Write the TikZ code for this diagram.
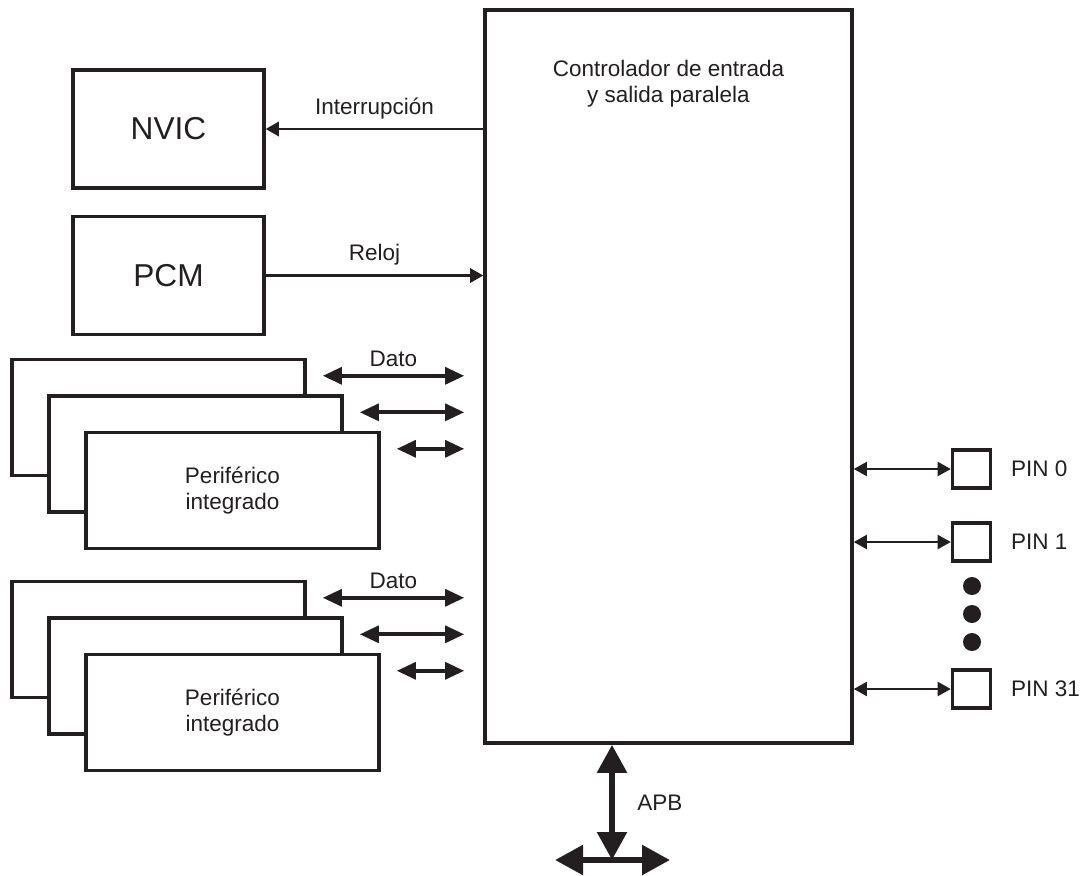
\documentclass[tikz,border=0pt]{standalone}
\usepackage{fontspec}
\setmainfont{Liberation Sans}
\usetikzlibrary{arrows.meta,positioning,calc}
\definecolor{ink}{RGB}{35,31,32}

\begin{document}
\begin{tikzpicture}[
  x=0.025cm, y=-0.025cm,
  every node/.style={text=ink, font=\fontsize{16}{18.4}\selectfont},
  box/.style={draw=ink, line width=2.4pt, fill=white},
  bigbox/.style={box, minimum width=9.175cm, minimum height=18.325cm},
  unit/.style={box, minimum width=4.775cm, minimum height=2.95cm, font=\fontsize{22.5}{27}\selectfont},
  periph/.style={box, minimum width=7.325cm, minimum height=2.9cm},
  pinbox/.style={box, minimum size=0.95cm},
  dot/.style={circle, fill=ink, minimum size=0.45cm, inner sep=0pt},
  sig/.style={draw=ink, line width=1.7pt, -{Triangle[length=0.33cm, width=0.36cm]}},
  pinlink/.style={draw=ink, line width=1.7pt, {Triangle[length=0.33cm, width=0.35cm]}-{Triangle[length=0.33cm, width=0.35cm]}},
  datalink/.style={draw=ink, line width=2.8pt, {Triangle[length=0.48cm, width=0.42cm]}-{Triangle[length=0.48cm, width=0.42cm]}},
  buslink/.style={draw=ink, line width=4.3pt, {Triangle[length=0.7cm, width=0.72cm]}-{Triangle[length=0.7cm, width=0.72cm]}},
]
\useasboundingbox (0,0) rectangle (1083,875);

% Controller
\node[bigbox] (ctrl) at (668.5,376.5) {};
\node[align=center] (ctrltitle) at (668.5,84) {Controlador de entrada\\y salida paralela};

% NVIC and PCM
\node[unit] (nvic) at (168.5,129) {NVIC};
\node[unit] (pcm) at (168.5,275.5) {PCM};
\draw[sig] (ctrl.west |- nvic.east) -- node[above=3pt] (irqlabel) {Interrupción} (nvic.east);
\draw[sig] (pcm.east) -- node[above=3pt] (clklabel) {Reloj} (ctrl.west |- pcm.east);

% Peripherals (two stacks of three)
\foreach \g/\dy in {1/0, 2/222} {
  \foreach \i in {0,1,2} {
    \node[periph] (p\g\i) at (158.5+37*\i, 417.5+\dy+36.5*\i) {};
    \draw[datalink] ($(p\g\i.north east)+(16,18)$) -- coordinate (mid\g\i) ($(ctrl.west |- p\g\i.north east)+(-19,18)$);
  }
  \node[align=center] (plabel\g) at (p\g2) {Periférico\\integrado};
  \node[above=3pt of mid\g0] (dato\g) {Dato};
}

% Pins
\foreach \n/\y in {0/469, 1/542, 31/689} {
  \node[pinbox] (pin\n) at (971.5,\y) {};
  \node[right=0.35cm of pin\n] (pinlabel\n) {PIN \n};
  \draw[pinlink] (ctrl.east |- pin\n) -- (pin\n.west);
}
\foreach \k/\y in {1/586, 2/614, 3/642} {
  \node[dot] (dot\k) at (972,\y) {};
}

% APB
\coordinate (bus) at (612,860);
\draw[buslink] (ctrl.south -| bus) -- node[right=0.44cm] (apb) {APB} (bus);
\draw[buslink] ($(bus)+(-57,0)$) -- ($(bus)+(58,0)$);
\end{tikzpicture}
\end{document}
